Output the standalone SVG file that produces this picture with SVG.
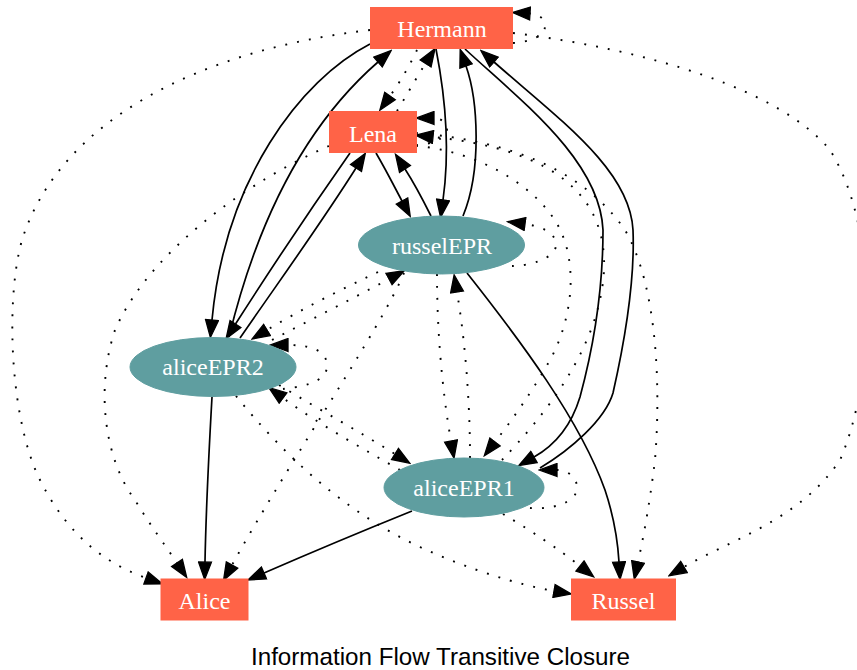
<svg xmlns="http://www.w3.org/2000/svg" width="857" height="670" viewBox="0 0 857 670">
  <style>
    .box { fill: #ff6347; stroke: #ff6347; stroke-width: 1; }
    .oval { fill: #5f9ea0; stroke: #5f9ea0; stroke-width: 1; }
    .label { font-family: "Liberation Serif", "Times New Roman", serif; font-size: 24px; fill: #ffffff; text-anchor: middle; }
    .title { font-family: "Liberation Sans", Arial, sans-serif; font-size: 24.2px; fill: #000000; text-anchor: middle; }
    .edge { fill: none; stroke: #000000; stroke-width: 1.7; marker-end: url(#head); }
    .dot { stroke-width: 1.9; stroke-dasharray: 1.9 10.1; }
  </style>
  <defs>
    <marker id="head" markerUnits="userSpaceOnUse" viewBox="-1 -1 20 15" markerWidth="20" markerHeight="15" refX="0" refY="6.5" orient="auto">
      <polygon points="0,0 17.5,6.5 0,13" fill="#000000" stroke="#000000" stroke-width="1.3" stroke-dasharray="none"/>
    </marker>
  </defs>

  <rect width="857" height="670" fill="#ffffff"/>

  <g id="connectors">
    <!-- direct flows -->
    <path class="edge" d="M370,44 C300,80 225,180 212,320"/>
    <path class="edge" d="M229,337 C255,230 300,130 378,62"/>
    <path class="edge" d="M350,153 C310,210 270,270 235.5,324"/>
    <path class="edge" d="M240,338 C280,280 320,225 356,168"/>
    <path class="edge" d="M376,153 C386,170 394,186 402,201"/>
    <path class="edge" d="M431,216 C423,200 416,186 405,169"/>
    <path class="edge" d="M436,49 C446,100 450,150 443,200"/>
    <path class="edge" d="M463,216 C482,170 478,100 466,66"/>
    <path class="edge" d="M465,49 C520,100 600,160 603,230 C603,300 590,360 580,397 C570,430 550,448 534,457"/>
    <path class="edge" d="M540,468 C570,450 605,420 613,393 C625,340 635,280 633,230 C630,170 560,120 494,62"/>
    <path class="edge" d="M467,273 C520,340 580,420 605,490 C615,520 618,545 619,562"/>
    <path class="edge" d="M212,397 C209,450 206,510 205,562"/>
    <path class="edge" d="M412,511 C360,532 310,553 264,573"/>

    <!-- transitive flows -->
    <path class="edge dot" d="M417,50 C410,65 400,82 390,96"/>
    <path class="edge dot" d="M397,111 C405,98 415,80 425.6,63.4"/>
    <path class="edge dot" d="M370,30 C200,50 60,120 22,240 C5,300 10,420 40,480 C70,540 110,565 146,578"/>
    <path class="edge dot" d="M513,33 C650,50 780,90 830,150 C880,230 875,380 840,460 C800,520 730,540 684,567"/>
    <path class="edge dot" d="M513,43 C530,42 545,36 545,26 C545,18 538,14 530,13.5"/>
    <path class="edge dot" d="M416,145 C430,145 447,138 447,130 C447,122 440,118 434,118"/>
    <path class="edge dot" d="M416,146 C470,150 530,180 556,222 C580,262 572,320 550,360 C532,392 512,420 495,442"/>
    <path class="edge dot" d="M502,460 C540,420 600,350 604,270 C607,200 560,150 433,137"/>
    <path class="edge dot" d="M416,133 C500,140 580,165 625,230 C660,290 660,400 655,460 C650,500 645,530 638,562"/>
    <path class="edge dot" d="M329,146 C250,180 150,250 115,330 C95,390 105,460 135,500 C150,525 165,545 177,563"/>
    <path class="edge dot" d="M404,273 C380,330 290,460 232,565"/>
    <path class="edge dot" d="M378,272 C340,290 300,310 267,330"/>
    <path class="edge dot" d="M272,340 C310,320 350,300 389,279"/>
    <path class="edge dot" d="M283,389 C300,387 327,383 327,366 C327,350 310,345 288,345"/>
    <path class="edge dot" d="M279,385 C320,410 360,432 395,454"/>
    <path class="edge dot" d="M400,470 C365,450 320,425 283,398"/>
    <path class="edge dot" d="M236,396 C280,450 340,510 420,547 C470,570 520,585 554,591"/>
    <path class="edge dot" d="M503,514 C530,530 560,550 580,566"/>
    <path class="edge dot" d="M530,508 C550,510 577,503 577,488 C577,475 565,470 557,470"/>
    <path class="edge dot" d="M470,458 C470,400 465,340 457,292"/>
    <path class="edge dot" d="M437,274 C437,330 442,390 451,441"/>
    <path class="edge dot" d="M512,266 C530,266 556,258 556,245 C556,232 540,226 525,224"/>
  </g>

  <g id="Hermann">
    <rect class="box" x="370.5" y="7.5" width="142" height="41"/>
    <text class="label" x="442" y="37">Hermann</text>
  </g>
  <g id="Lena">
    <rect class="box" x="329.5" y="111.5" width="87" height="41"/>
    <text class="label" x="373" y="142">Lena</text>
  </g>
  <g id="russelEPR">
    <ellipse class="oval" cx="441.5" cy="245" rx="83" ry="29"/>
    <text class="label" x="442" y="254">russelEPR</text>
  </g>
  <g id="aliceEPR2">
    <ellipse class="oval" cx="213" cy="367" rx="83" ry="29.5"/>
    <text class="label" x="213" y="375">aliceEPR2</text>
  </g>
  <g id="aliceEPR1">
    <ellipse class="oval" cx="464" cy="487.5" rx="80" ry="29.5"/>
    <text class="label" x="464" y="496">aliceEPR1</text>
  </g>
  <g id="Alice">
    <rect class="box" x="161" y="579" width="87" height="41"/>
    <text class="label" x="204.5" y="609">Alice</text>
  </g>
  <g id="Russel">
    <rect class="box" x="571.5" y="579" width="104" height="41"/>
    <text class="label" x="623.5" y="609">Russel</text>
  </g>

  <text class="title" x="440.5" y="665">Information Flow Transitive Closure</text>
</svg>
